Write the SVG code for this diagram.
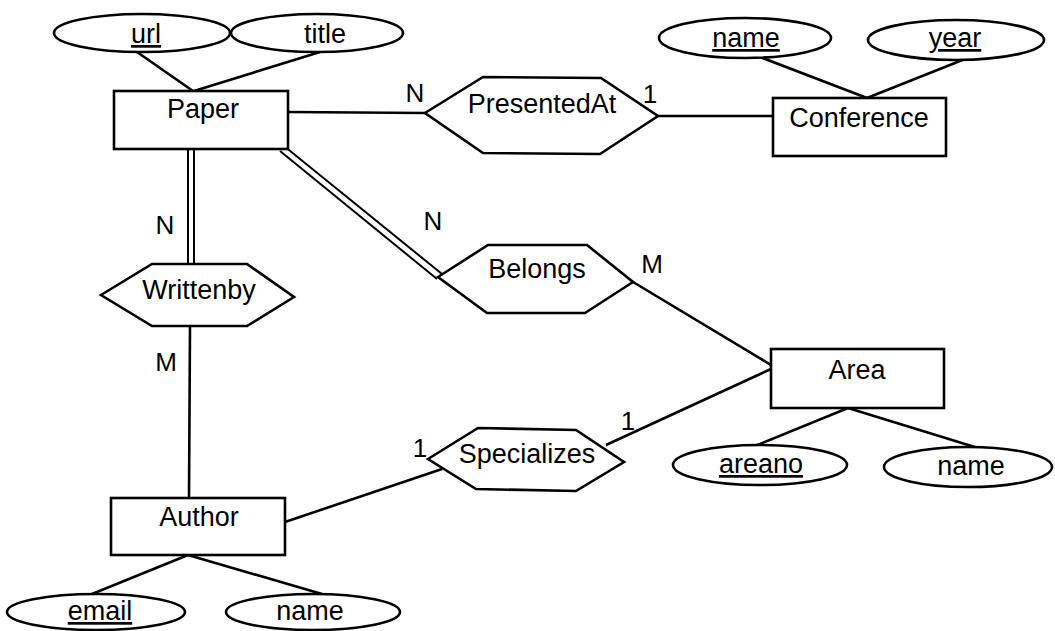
<svg xmlns="http://www.w3.org/2000/svg" width="1055" height="631" viewBox="0 0 1055 631">
<style>
  .shape { fill: #fff; stroke: #000; stroke-width: 2.6; }
  .edge { stroke: #000; stroke-width: 2.6; fill: none; }
  .dbl { stroke: #000; stroke-width: 2; fill: none; }
  .t { font-family: "Liberation Sans", Arial, sans-serif; font-size: 27px; fill: #000; text-anchor: middle; }
  .u { text-decoration: underline; }
  .lbl { font-family: "Liberation Sans", Arial, sans-serif; font-size: 26px; fill: #000; text-anchor: middle; }
</style>
<rect width="1055" height="631" fill="#fff"/>

<g id="connectors">
  <line class="edge" x1="137" y1="52" x2="193" y2="91"/>
  <line class="edge" x1="320" y1="52" x2="194" y2="91"/>
  <line class="edge" x1="760" y1="57" x2="867" y2="98"/>
  <line class="edge" x1="965" y1="59" x2="867" y2="98"/>
  <line class="edge" x1="288" y1="112" x2="425" y2="113"/>
  <line class="edge" x1="658" y1="116" x2="773" y2="116"/>
  <line class="dbl" x1="188" y1="149" x2="188" y2="264"/>
  <line class="dbl" x1="194" y1="149" x2="194" y2="264"/>
  <line class="dbl" x1="280" y1="151" x2="437" y2="279"/>
  <line class="dbl" x1="284" y1="146" x2="442" y2="274"/>
  <line class="edge" x1="190" y1="326" x2="189" y2="498"/>
  <line class="edge" x1="633" y1="282" x2="771" y2="365"/>
  <line class="edge" x1="606" y1="445" x2="771" y2="369"/>
  <line class="edge" x1="285" y1="522" x2="442" y2="469"/>
  <line class="edge" x1="848" y1="408" x2="755" y2="446"/>
  <line class="edge" x1="848" y1="408" x2="978" y2="448"/>
  <line class="edge" x1="188" y1="555" x2="92" y2="594"/>
  <line class="edge" x1="188" y1="555" x2="322" y2="594"/>
</g>

<g id="url">
  <ellipse class="shape" cx="142" cy="33" rx="88" ry="19"/>
  <text class="t u" x="146" y="43">url</text>
</g>
<g id="title">
  <ellipse class="shape" cx="317" cy="33" rx="86" ry="19"/>
  <text class="t" x="325" y="43">title</text>
</g>
<g id="Paper">
  <rect class="shape" x="114" y="91" width="174" height="58"/>
  <text class="t" x="203" y="118">Paper</text>
</g>
<g id="PresentedAt">
  <polygon class="shape" points="425,113 483,77 601,78 658,116 600,154 483,153"/>
  <text class="t" x="542" y="113">PresentedAt</text>
</g>
<g id="Conference">
  <rect class="shape" x="773" y="98" width="173" height="58"/>
  <text class="t" x="859" y="127">Conference</text>
</g>
<g id="conf-name">
  <ellipse class="shape" cx="745" cy="38" rx="86" ry="20"/>
  <text class="t u" x="746" y="47">name</text>
</g>
<g id="conf-year">
  <ellipse class="shape" cx="956" cy="40" rx="88" ry="20"/>
  <text class="t u" x="955" y="47">year</text>
</g>
<g id="Writtenby">
  <polygon class="shape" points="101,295 152,264 247,264 294,297 247,326 152,326"/>
  <text class="t" x="199" y="299">Writtenby</text>
</g>
<g id="Belongs">
  <polygon class="shape" points="438,277 488,245 587,245 633,282 585,313 487,313"/>
  <text class="t" x="537" y="278">Belongs</text>
</g>
<g id="Area">
  <rect class="shape" x="771" y="349" width="173" height="59"/>
  <text class="t" x="857" y="379">Area</text>
</g>
<g id="Specializes">
  <polygon class="shape" points="428,459 478,428 576,430 624,462 576,491 476,489"/>
  <text class="t" x="527" y="463">Specializes</text>
</g>
<g id="areano">
  <ellipse class="shape" cx="760" cy="465" rx="87" ry="20"/>
  <text class="t u" x="761" y="473">areano</text>
</g>
<g id="area-name">
  <ellipse class="shape" cx="968" cy="467" rx="84" ry="20"/>
  <text class="t" x="971" y="475">name</text>
</g>
<g id="Author">
  <rect class="shape" x="111" y="498" width="174" height="57"/>
  <text class="t" x="199" y="526">Author</text>
</g>
<g id="email">
  <ellipse class="shape" cx="96" cy="612" rx="89" ry="18"/>
  <text class="t u" x="100" y="620">email</text>
</g>
<g id="author-name">
  <ellipse class="shape" cx="313" cy="612" rx="87" ry="18"/>
  <text class="t" x="310" y="620">name</text>
</g>

<g id="labels">
  <text class="lbl" x="415" y="102">N</text>
  <text class="lbl" x="650" y="103">1</text>
  <text class="lbl" x="165" y="234">N</text>
  <text class="lbl" x="166" y="371">M</text>
  <text class="lbl" x="433" y="230">N</text>
  <text class="lbl" x="652" y="273">M</text>
  <text class="lbl" x="628" y="430">1</text>
  <text class="lbl" x="420" y="457">1</text>
</g>
</svg>
